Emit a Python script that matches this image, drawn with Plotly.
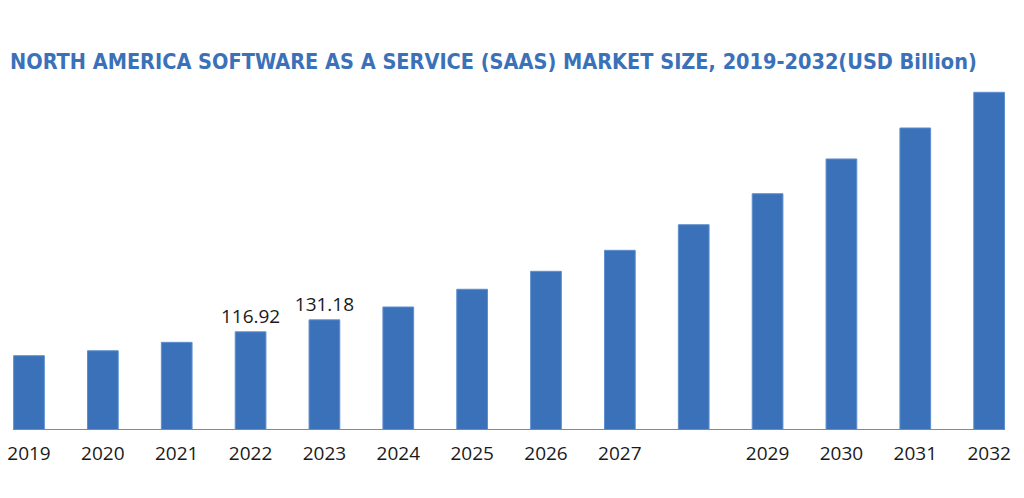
import plotly.graph_objects as go

years = ["2019", "2020", "2021", "2022", "2023", "2024", "2025", "2026",
         "2027", "2028", "2029", "2030", "2031", "2032"]
tick_labels = ["2019", "2020", "2021", "2022", "2023", "2024", "2025", "2026",
               "2027", "", "2029", "2030", "2031", "2032"]
values = [88.5, 94.4, 104.4, 116.92, 131.18, 146.5, 167.6, 189.0,
          214.0, 244.5, 281.4, 322.8, 359.7, 402.2]
value_labels = ["", "", "", "116.92", "131.18", "", "", "", "", "", "", "", "", ""]

title = "NORTH AMERICA SOFTWARE AS A SERVICE (SAAS) MARKET SIZE, 2019-2032(USD Billion)"

BAR = "#3A71B8"
bar_w = 0.416
xs = list(range(len(years)))

W, H = 1016, 490

fig = go.Figure()
fig.add_trace(go.Bar(
    x=xs, y=values, width=bar_w,
    marker=dict(color=BAR, line=dict(color="#5f8fcf", width=1)),
    text=value_labels, textposition="outside", cliponaxis=False,
    constraintext="none",
    textfont=dict(family="Open Sans", size=19, color="#1a1a1a"),
    hoverinfo="skip",
))

fig.add_shape(type="line", xref="x", yref="y",
              x0=xs[0] - bar_w / 2, x1=xs[-1] + bar_w / 2, y0=0, y1=0,
              line=dict(color="#5f8fcf", width=2))

fig.update_layout(
    width=W, height=H,
    margin=dict(l=0, r=0, t=77, b=68, autoexpand=False),
    paper_bgcolor="white", plot_bgcolor="white",
    showlegend=False,
    title=dict(text=title, x=2 / W, xanchor="left", y=1 - 53 / H, yanchor="middle",
               yref="container",
               font=dict(family="DejaVu Sans Condensed", size=21.5, color="#3A71B8",
                         weight="bold")),
    xaxis=dict(range=[-0.2843, 13.472], tickmode="array", tickvals=xs,
               ticktext=tick_labels, showgrid=False, zeroline=False, showline=False,
               ticks="", automargin=False, ticklabeloverflow="allow",
               ticklabelstandoff=10,
               tickfont=dict(family="Open Sans", size=19, color="#1a1a1a")),
    yaxis=dict(range=[0, 410.9], visible=False, showgrid=False, zeroline=False),
)

fig.write_html("out.html")
